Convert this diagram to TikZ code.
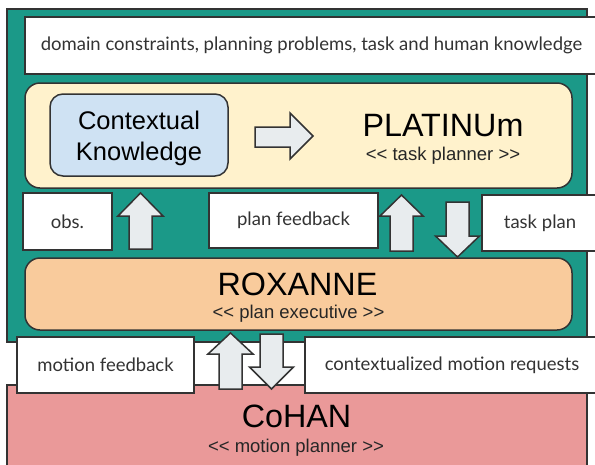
\documentclass[tikz,border=0pt]{standalone}
\usepackage{fontspec}
\setmainfont{Lato}
\newfontfamily\titlefont{Liberation Sans}
\definecolor{teal}{RGB}{27,153,136}
\definecolor{cream}{RGB}{255,242,204}
\definecolor{ctxblue}{RGB}{207,226,243}
\definecolor{roxorange}{RGB}{249,203,156}
\definecolor{cohanpink}{RGB}{234,153,153}
\definecolor{arrowfill}{RGB}{232,236,238}
\definecolor{edge}{RGB}{51,51,51}
\newcommand\BlockUD[5]{%
  \draw[blockarrow] (#1,#2) -- (#1+#5,#3) -- (#1+11.5,#3) -- (#1+11.5,#4)
    -- (#1-11.5,#4) -- (#1-11.5,#3) -- (#1-#5,#3) -- cycle;}
\begin{document}
\begin{tikzpicture}[x=1pt,y=-1pt,
  every node/.style={inner sep=0pt, outer sep=0pt},
  frame/.style={draw=edge, line width=1.5pt},
  labelbox/.style={frame, fill=white, text=edge, font=\fontsize{18.5}{22}\selectfont},
  blockarrow/.style={draw=edge, line width=1.5pt, fill=arrowfill, line join=miter},
  title/.style={font=\titlefont\fontsize{32.3}{38}\selectfont, anchor=base},
  subtitle/.style={font=\titlefont\fontsize{18.5}{22}\selectfont, anchor=base, text=black!85},
]
\useasboundingbox (0,0) rectangle (595,464);
\clip (0,0) rectangle (595,464);
% outer teal frame
\node[frame, fill=teal, minimum width=580pt, minimum height=333pt] (outer) at (297,175.5) {};
% top knowledge box
\node[labelbox, minimum width=573pt, minimum height=57pt] (know) at (311.5,45.5)
  {domain constraints, planning problems, task and human knowledge};
% PLATINUm
\node[frame, fill=cream, rounded corners=15pt, minimum width=547pt, minimum height=105pt] (plat) at (298.5,135.5) {};
\node[frame, fill=ctxblue, rounded corners=13pt, minimum width=178pt, minimum height=82pt] (ctx) at (139,135) {};
\node[font=\titlefont\fontsize{25.5}{30.5}\selectfont, align=center] (ctxtext) at (139,138.5) {Contextual\\Knowledge};
\node[title] (plattitle) at (443,136) {PLATINUm};
\node[subtitle] (platsub) at (443,160) {<< task planner >>};
\draw[blockarrow] (255,127) -- (290,127) -- (290,113) -- (313,136) -- (290,159) -- (290,147) -- (255,147) -- cycle;
% middle labels
\node[labelbox, minimum width=89pt, minimum height=57pt] (obs) at (67.5,221.5) {obs.};
\node[labelbox, minimum width=169pt, minimum height=55pt] (planfb) at (293.5,220.5) {plan feedback};
\node[labelbox, minimum width=116pt, minimum height=56pt] (taskplan) at (540,223) {task plan};
\BlockUD{140.5}{193}{216}{249}{22.5}
\BlockUD{401.5}{195}{216}{251}{21.5}
\BlockUD{457.5}{257}{236}{202}{22}
% ROXANNE
\node[frame, fill=roxorange, rounded corners=15pt, minimum width=547pt, minimum height=72pt] (rox) at (298.5,294) {};
\node[title] (roxtitle) at (297.5,295) {ROXANNE};
\node[subtitle] (roxsub) at (298.5,318) {<< plan executive >>};
% CoHAN
\node[frame, fill=cohanpink, minimum width=580pt, minimum height=85pt] (cohan) at (297,427.5) {};
\node[title] (cohantitle) at (296.5,427) {CoHAN};
\node[subtitle] (cohansub) at (296,452) {<< motion planner >>};
% bottom labels
\node[labelbox, minimum width=177pt, minimum height=56pt] (motionfb) at (105.5,365) {motion feedback};
\node[labelbox, minimum width=294pt, minimum height=56pt] (ctxreq) at (452,365) {contextualized motion requests};
\BlockUD{230.5}{333}{354}{389}{22.5}
\BlockUD{271.5}{389}{367}{334}{22}
\end{tikzpicture}
\end{document}
